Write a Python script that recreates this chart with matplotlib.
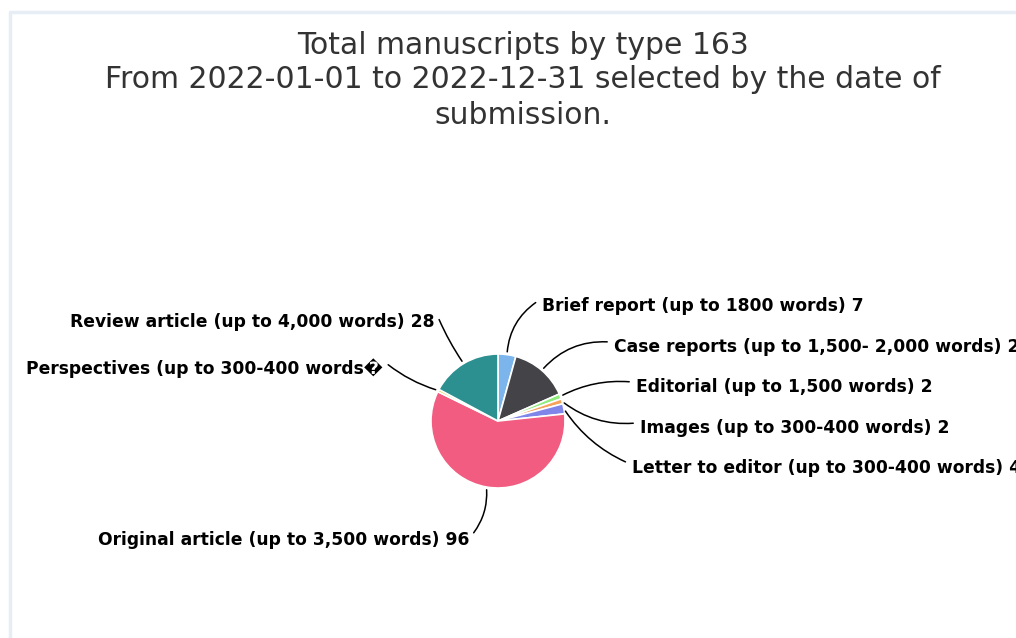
import numpy as np
import matplotlib
matplotlib.use("Agg")
import matplotlib.pyplot as plt

# manuscripts by type, clockwise from the top
labels = ["Brief report (up to 1800 words)",
          "Case reports (up to 1,500- 2,000 words)",
          "Editorial (up to 1,500 words)",
          "Images (up to 300-400 words)",
          "Letter to editor (up to 300-400 words)",
          "Original article (up to 3,500 words)",
          "Perspectives (up to 300-400 words\ufffd",
          "Review article (up to 4,000 words)"]
counts = [7, 23, 2, 2, 4, 96, 1, 28]
colors = ["#7cb5ec", "#434348", "#90ed7d", "#f7a35c", "#8085e9",
          "#f15c80", "#e4d354", "#2b908f"]
show_count = [True, True, True, True, True, True, False, True]

W, H = 1016, 638
fig = plt.figure(figsize=(W / 100, H / 100), dpi=100)
ax = fig.add_axes([0, 0, 1, 1])

def fy(y):  # image pixel row -> data y
    return H - y

# light frame
ax.plot([10, 10, W], [fy(H), fy(12), fy(12)], color="#e6edf5", lw=2.5, zorder=0)

title_lines = ["Total manuscripts by type 163",
               "From 2022-01-01 to 2022-12-31 selected by the date of",
               "submission."]
for line, ty in zip(title_lines, [45, 80, 115]):
    fig.text(0.515, fy(ty) / H, line, ha="center", va="center",
             fontsize=21.5, color="#333333")

cx, cy, r = 498, fy(421), 67
wedges, _ = ax.pie(counts, colors=colors, startangle=90, counterclock=False,
                   center=(cx, cy), radius=r, frame=True,
                   wedgeprops=dict(edgecolor="white", linewidth=1.2))
ax.set_xlim(0, W)
ax.set_ylim(0, H)
ax.set_aspect("equal")
ax.axis("off")

# label text anchors (pixel coords) and side
label_pos = [(542, 306, "left"), (614, 347, "left"), (636, 387, "left"),
             (640, 428, "left"), (632, 468, "left"), (469, 540, "right"),
             (383, 368, "right"), (435, 322, "right")]
curve = [0.25, 0.25, 0.15, -0.2, -0.15, 0.2, 0.1, 0.05]

for w, lab, n, sc, (tx, ty, side), rad in zip(wedges, labels, counts, show_count, label_pos, curve):
    mid = np.deg2rad((w.theta1 + w.theta2) / 2)
    px = cx + r * np.cos(mid)
    py = cy + r * np.sin(mid)
    txt = f"{lab} {n}" if sc else lab
    ex = tx - 4 if side == "left" else tx + 3
    ax.text(tx, fy(ty), txt, ha=side, va="center", fontsize=12.3, fontweight="bold",
            color="black", clip_on=False)
    ax.annotate("", xy=(px, py), xytext=(ex, fy(ty) + 5),
                arrowprops=dict(arrowstyle="-", color="black", lw=1.1,
                                connectionstyle=f"arc3,rad={rad}"))

fig.savefig("out.png", dpi=100, facecolor="white")
